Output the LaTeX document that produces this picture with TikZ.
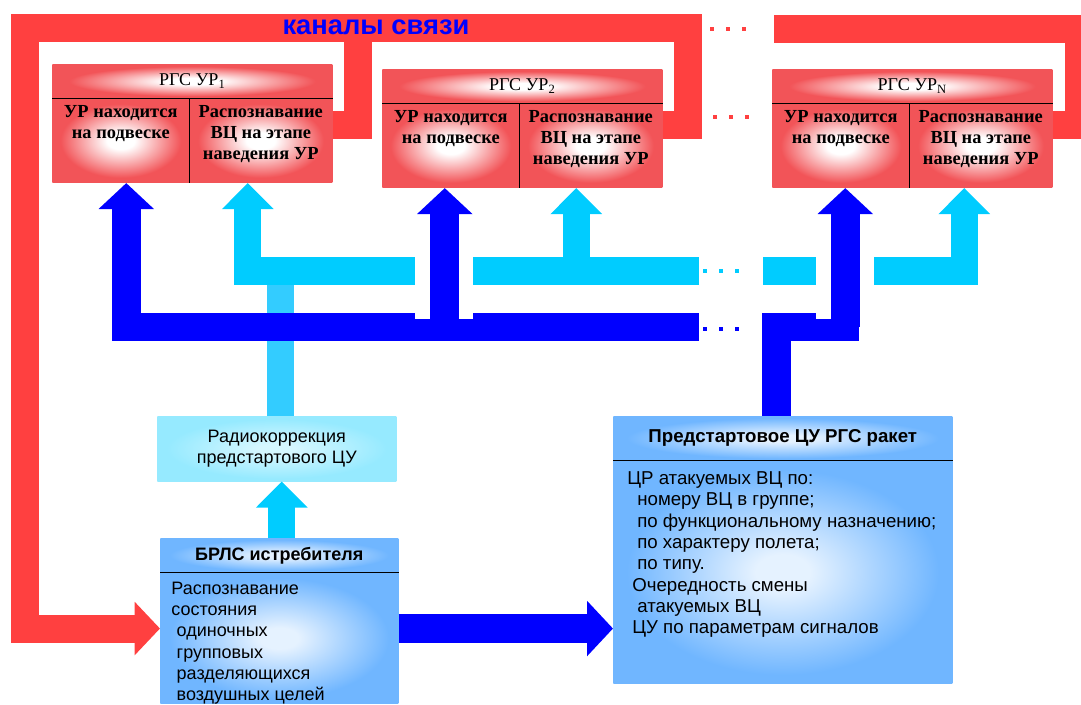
\documentclass[tikz,border=0pt]{standalone}
\usepackage{fontspec}
\setmainfont{Liberation Serif}
\setsansfont{Liberation Sans}
\usetikzlibrary{arrows.meta,calc}

\definecolor{pipered}{RGB}{255,64,64}
\definecolor{boxred}{RGB}{242,84,88}
\definecolor{darkblue}{RGB}{0,0,255}
\definecolor{cyanblue}{RGB}{0,204,255}
\definecolor{paleblue}{RGB}{51,204,255}
\definecolor{boxblue}{RGB}{112,182,255}
\definecolor{boxcyan}{RGB}{150,234,255}
\colorlet{bluecore}{white!82!boxblue}
\colorlet{cyancore}{white!60!boxcyan}

\pgfdeclareradialshading{redglow}{\pgfpointorigin}{color(0bp)=(white); color(5bp)=(white); color(22bp)=(boxred); color(50bp)=(boxred)}
\pgfdeclareradialshading{blueglow}{\pgfpointorigin}{color(0bp)=(bluecore); color(4bp)=(bluecore); color(23bp)=(boxblue); color(50bp)=(boxblue)}
\pgfdeclareradialshading{cyanglow}{\pgfpointorigin}{color(0bp)=(cyancore); color(4bp)=(cyancore); color(23bp)=(boxcyan); color(50bp)=(boxcyan)}

\tikzset{
  rghead/.style={shade,shading=redglow,minimum width=210pt,minimum height=25.5pt,inner sep=0pt,font=\fontsize{13.5}{15.75}\selectfont},
  rgcell/.style={shade,shading=redglow,minimum height=63pt,inner sep=0pt},
  celltext/.style={anchor=north,yshift=-2pt,align=center,font=\bfseries\fontsize{13.8}{15.75}\selectfont},
  sepline/.style={draw=black,line width=1.1pt},
  bluebox/.style={shade,shading=blueglow,inner sep=0pt},
  bluehead/.style={bluebox,font=\sffamily\bfseries\fontsize{13.5}{16}\selectfont},
  bodytext/.style={anchor=north west,align=left,font=\sffamily\fontsize{13.5}{16}\selectfont},
  redpipe/.style={draw=pipered,line width=21pt},
  darkpipe/.style={draw=darkblue,line width=21.5pt},
  cyanpipe/.style={draw=cyanblue,line width=20.5pt},
  palepipe/.style={draw=paleblue,line width=20.5pt},
  redtip/.style={-{Triangle[width=39pt,length=19pt]}},
  darktip/.style={-{Triangle[width=40.5pt,length=19.5pt]}},
  cyantip/.style={-{Triangle[width=37.5pt,length=19.5pt]}}
}

\begin{document}
\begin{tikzpicture}[x=0.75pt,y=-0.75pt] % pixel grid of the slide
  \path[use as bounding box] (0,0) rectangle (1081,705);
  \clip (0,0) rectangle (1081,705);

  % missile seeker boxes
  \foreach \nm/\x/\y in {1/52/64,2/382/69,N/772/69}{
    \node[rghead,anchor=north west] (rgs\nm h) at (\x,\y) {РГС УР\textsubscript{\nm}};
    \node[rgcell,minimum width=102.75pt,anchor=north west,
          label={[celltext]north:{УР находится\\на подвеске}}] (rgs\nm l) at (rgs\nm h.south west) {};
    \node[rgcell,minimum width=107.25pt,anchor=north east,
          label={[celltext]north:{Распознавание\\ВЦ на этапе\\наведения УР}}] (rgs\nm r) at (rgs\nm h.south east) {};
    \draw[sepline] (rgs\nm h.south west) -- (rgs\nm h.south east)
                   (rgs\nm l.north east) -- (rgs\nm l.south east);
  }

  % lower boxes
  \node[shade,shading=cyanglow,minimum width=179.25pt,minimum height=48.75pt,inner sep=0pt,anchor=north west,
        align=center,font=\sffamily\fontsize{13.5}{16}\selectfont] (radio) at (157,416) {Радиокоррекция\\предстартового ЦУ};
  \node[bluehead,minimum width=178.5pt,minimum height=25.5pt,anchor=north west] (brlsh) at (160,538) {БРЛС истребителя};
  \node[bluebox,minimum width=178.5pt,minimum height=98.25pt,anchor=north west,
        label={[bodytext,xshift=5pt,yshift=-3.3pt]north west:{Распознавание\\состояния\\\hspace*{4pt}одиночных\\\hspace*{4pt}групповых\\\hspace*{4pt}разделяющихся\\\hspace*{4pt}воздушных целей}}]
        (brls) at (brlsh.south west) {};
  \node[bluehead,minimum width=254.25pt,minimum height=33pt,anchor=north west,font=\sffamily\bfseries\fontsize{14}{16}\selectfont] (cuh) at (613,416) {Предстартовое ЦУ РГС ракет};
  \node[bluebox,minimum width=254.25pt,minimum height=167.25pt,anchor=north west,
        label={[bodytext,xshift=7.2pt,yshift=-4.8pt,font=\sffamily\fontsize{14}{16}\selectfont]north west:{ЦР атакуемых ВЦ по:\\\hspace*{7.5pt}номеру ВЦ в группе;\\\hspace*{7.5pt}по функциональному назначению;\\\hspace*{7.5pt}по характеру полета;\\\hspace*{7.5pt}по типу.\\\hspace*{3.75pt}Очередность смены\\\hspace*{7.5pt}атакуемых ВЦ\\\hspace*{3.75pt}ЦУ по параметрам сигналов}}]
        (cu) at (cuh.south west) {};
  \draw[sepline] (brlsh.south west) -- (brlsh.south east)
                 (cuh.south west) -- (cuh.south east);

  % bus ends
  \coordinate (cbusL) at (699,271);
  \coordinate (cbusR) at (763,271);
  \coordinate (dbusL) at (699,327);
  \coordinate (dbusR) at (859,327);
  \coordinate (dlink) at ($(brls.north east)+(0,56)$);

  % red data link loop
  \draw[redpipe] ($(rgs1r.north east)+(0,26)$) -| (358,28);
  \draw[redpipe,redtip] ($(rgs2r.north east)+(0,21)$) -| (688,28) -- (25,28) |- (brls.west |- dlink);
  \draw[redpipe] ($(rgsNr.north east)+(0,21)$) -| (1079,29) -- (774,29);
  \node[anchor=base,text=darkblue,font=\sffamily\bfseries\fontsize{20.5}{24}\selectfont] (title) at (376,35) {каналы связи};

  % radio correction bus
  \draw[palepipe] ($(radio.north)+(4,0)$) -- ($(radio.north |- cbusL)+(4,0)$);
  \draw[cyanpipe,cyantip] (cbusL) -| ($(rgs1r.south)+(-13,0)$);
  \draw[cyanpipe,cyantip] ($(rgs2r.south |- cbusL)+(-14.5,0)$) -- ($(rgs2r.south)+(-14.5,0)$);
  \draw[cyanpipe,cyantip] (cbusR) -| ($(rgsNr.south)+(-16.5,0)$);

  % prelaunch designation bus
  \draw[darkpipe,darktip] (dbusL) -| ($(rgs1l.south)+(5.5,0)$);
  \draw[darkpipe] ($(cuh.north)+(-6.5,0)$) |- (dbusR);
  \fill[white] (415,255) rectangle (473,319);
  \fill[white] (816,255) rectangle (874,319);
  \draw[darkpipe,darktip] ($(rgs2l.south |- dbusL)+(-6,0)$) -- ($(rgs2l.south)+(-6,0)$);
  \draw[darkpipe,darktip] ($(rgsNl.south |- dbusL)+(4.5,0)$) -- ($(rgsNl.south)+(4.5,0)$);

  % radar outputs
  \draw[cyanpipe,cyantip] ($(brlsh.north)+(2.5,0)$) -- ($(brlsh.north |- radio.south)+(2.5,0)$);
  \draw[darkpipe,darktip] (dlink) -- (cu.west |- dlink);

  % dots
  \foreach \dx in {0,16,32}{
    \fill[pipered] ({712+\dx},29) +(-2,-2) rectangle +(2,2);
    \fill[pipered] ({715+\dx},117) +(-2,-2) rectangle +(2,2);
    \fill[cyanblue] ({705+\dx},271) +(-2,-2) rectangle +(2,2);
    \fill[darkblue] ({705+\dx},329) +(-2,-2) rectangle +(2,2);
  }
\end{tikzpicture}
\end{document}
